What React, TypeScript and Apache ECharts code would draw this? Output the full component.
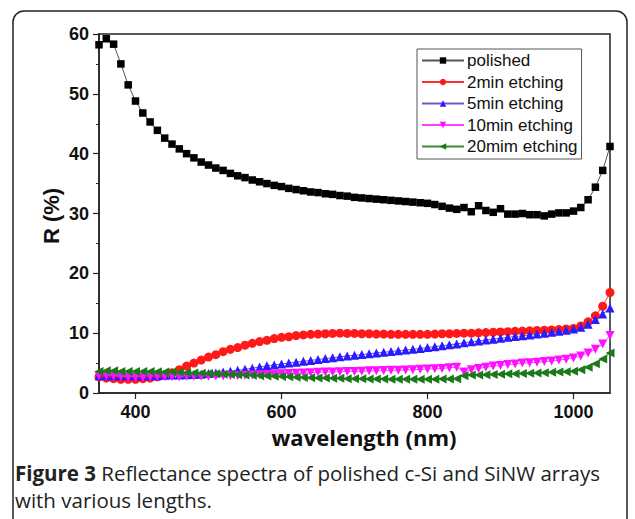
import React, { useEffect, useRef } from "react";
import * as echarts from "echarts";

const wavelengths = [
  350, 360, 370, 380, 390, 400, 410, 420, 430, 440,
  450, 460, 470, 480, 490, 500, 510, 520, 530, 540,
  550, 560, 570, 580, 590, 600, 610, 620, 630, 640,
  650, 660, 670, 680, 690, 700, 710, 720, 730, 740,
  750, 760, 770, 780, 790, 800, 810, 820, 830, 840,
  850, 860, 870, 880, 890, 900, 910, 920, 930, 940,
  950, 960, 970, 980, 990, 1000, 1010, 1020, 1030, 1040,
  1050,
];

const polished = [
  58.2, 59.2, 58.3, 55.0, 51.5, 48.8, 46.8, 45.3, 43.9, 42.6,
  41.6, 40.8, 40.0, 39.3, 38.6, 38.1, 37.6, 37.2, 36.7, 36.3,
  36.0, 35.6, 35.3, 35.0, 34.7, 34.5, 34.2, 34.0, 33.8, 33.6,
  33.5, 33.3, 33.2, 33.0, 32.9, 32.7, 32.6, 32.5, 32.4, 32.3,
  32.2, 32.1, 32.0, 31.9, 31.8, 31.7, 31.5, 31.2, 30.9, 30.7,
  31.0, 30.3, 31.3, 30.5, 30.2, 30.8, 29.9, 29.9, 30.0, 29.8,
  29.8, 29.6, 29.9, 30.1, 30.1, 30.4, 31.0, 32.3, 34.4, 37.2,
  41.2,
];

const etch2 = [
  2.7, 2.5, 2.4, 2.3, 2.3, 2.3, 2.4, 2.5, 2.7, 3.0,
  3.4, 3.9, 4.5, 5.0, 5.5, 6.0, 6.4, 6.9, 7.3, 7.6,
  8.0, 8.3, 8.6, 8.8, 9.1, 9.3, 9.4, 9.6, 9.7, 9.8,
  9.85, 9.9, 9.95, 10.0, 9.95, 9.95, 9.9, 9.9, 9.85, 9.85,
  9.8, 9.8, 9.8, 9.8, 9.8, 9.8, 9.85, 9.9, 9.9, 9.95,
  10.0, 10.0, 10.05, 10.1, 10.15, 10.2, 10.25, 10.3, 10.35, 10.4,
  10.45, 10.5, 10.55, 10.6, 10.7, 10.8, 11.2, 11.9, 12.9, 14.5,
  16.8,
];

const etch5 = [
  2.9, 2.9, 2.9, 2.9, 2.9, 2.9, 2.9, 2.9, 2.9, 2.95,
  3.0, 3.0, 3.05, 3.1, 3.15, 3.25, 3.35, 3.5, 3.65, 3.8,
  3.95, 4.15, 4.35, 4.55, 4.7, 4.85, 5.0, 5.15, 5.3, 5.45,
  5.6, 5.75, 5.9, 6.05, 6.2, 6.3, 6.45, 6.55, 6.7, 6.8,
  6.95, 7.05, 7.2, 7.3, 7.45, 7.6, 7.75, 7.9, 8.05, 8.2,
  8.4, 8.55, 8.7, 8.85, 9.0, 9.15, 9.3, 9.45, 9.55, 9.7,
  9.85, 10.0, 10.15, 10.3, 10.5, 10.7, 11.0, 11.5, 12.3, 13.2,
  14.2,
];

const etch10 = [
  2.9, 2.9, 2.8, 2.7, 2.6, 2.6, 2.6, 2.7, 2.7, 2.7,
  2.7, 2.7, 2.8, 2.8, 2.8, 2.8, 2.85, 2.85, 2.9, 2.9,
  2.95, 3.0, 3.05, 3.1, 3.15, 3.2, 3.25, 3.3, 3.35, 3.4,
  3.45, 3.5, 3.5, 3.55, 3.6, 3.6, 3.65, 3.7, 3.7, 3.75,
  3.8, 3.8, 3.85, 3.9, 3.95, 4.0, 4.05, 4.1, 4.2, 4.3,
  3.5, 3.9, 4.1, 4.3, 4.5, 4.6, 4.75, 4.85, 5.0, 5.05,
  5.15, 5.25, 5.35, 5.5, 5.65, 5.85, 6.2, 6.7, 7.3, 8.2,
  9.6,
];

const etch20 = [
  3.6, 3.7, 3.7, 3.6, 3.6, 3.6, 3.6, 3.6, 3.55, 3.5,
  3.5, 3.45, 3.4, 3.35, 3.3, 3.25, 3.2, 3.15, 3.1, 3.05,
  3.0, 2.95, 2.9, 2.85, 2.8, 2.75, 2.7, 2.65, 2.6, 2.55,
  2.5, 2.5, 2.45, 2.45, 2.4, 2.4, 2.4, 2.35, 2.35, 2.35,
  2.3, 2.3, 2.3, 2.3, 2.3, 2.3, 2.3, 2.35, 2.35, 2.4,
  2.9, 3.0, 3.0, 3.05, 3.1, 3.15, 3.2, 3.2, 3.25, 3.3,
  3.35, 3.4, 3.45, 3.5, 3.55, 3.65, 3.9, 4.3, 4.9, 5.7,
  6.7,
];

const seriesNames = ["polished", "2min etching", "5min etching", "10min etching", "20mim etching"];
const xTicks = [400, 600, 800, 1000];

const xLabel = "wavelength (nm)";
const yLabel = "R (%)";
const captionBold = "Figure 3";
const captionLine1 = " Reflectance spectra of polished c-Si and SiNW arrays";
const captionLine2 = "with various lengths.";

export default function App() {
  const ref = useRef<HTMLDivElement>(null);

  useEffect(() => {
    if (!ref.current) return;
    const chart = echarts.init(ref.current, null, { renderer: "svg" });

    const mk = (vals: number[]) => wavelengths.map((w, i) => [w, vals[i]]);

    const seriesDefs = [
      { name: seriesNames[0], data: polished, color: "#000000", line: "#555555", symbol: "rect", size: 7.5, rotate: 0 },
      { name: seriesNames[1], data: etch2, color: "#ff1a1a", line: "#ff3030", symbol: "circle", size: 9, rotate: 0 },
      { name: seriesNames[2], data: etch5, color: "#2a1aff", line: "#6a5acd", symbol: "triangle", size: 9, rotate: 0 },
      { name: seriesNames[3], data: etch10, color: "#ff10ff", line: "#ff40ff", symbol: "triangle", size: 9, rotate: 180 },
      { name: seriesNames[4], data: etch20, color: "#1a7a1a", line: "#3a8a3a", symbol: "triangle", size: 9, rotate: 90 },
    ];

    const axisFont = {
      fontFamily: "Liberation Sans",
      fontWeight: "bold" as const,
      fontSize: 18,
      color: "#111",
    };

    chart.setOption({
      animation: false,
      backgroundColor: "#ffffff",
      grid: {
        left: 99,
        top: 34,
        width: 511,
        height: 359,
        show: true,
        borderColor: "#222",
        borderWidth: 1.5,
        backgroundColor: "transparent",
      },
      xAxis: {
        type: "value",
        min: 350,
        max: 1050,
        interval: 50,
        axisLine: { show: true, lineStyle: { color: "#222", width: 1.5 } },
        axisTick: {
          show: true,
          inside: false,
          length: 6,
          lineStyle: { color: "#222", width: 1.2 },
          customValues: xTicks,
        },
        minorTick: { show: false },
        splitLine: { show: false },
        axisLabel: {
          ...axisFont,
          margin: 10,
          customValues: xTicks,
          formatter: (v: number) => String(v),
        },
      },
      yAxis: {
        type: "value",
        min: 0,
        max: 60,
        interval: 10,
        axisLine: { show: true, lineStyle: { color: "#222", width: 1.5 } },
        axisTick: { show: true, inside: false, length: 6, lineStyle: { color: "#222", width: 1.2 } },
        minorTick: { show: true, splitNumber: 2, length: 3, lineStyle: { color: "#222", width: 1 } },
        splitLine: { show: false },
        axisLabel: { ...axisFont, margin: 10 },
      },
      legend: {
        show: true,
        orient: "vertical",
        left: 417,
        top: 49,
        width: 163,
        borderColor: "#555",
        borderWidth: 1,
        padding: [3, 4, 4, 4],
        itemGap: 4.5,
        itemWidth: 42,
        itemHeight: 8,
        data: seriesNames,
        textStyle: { fontFamily: "Liberation Sans", fontSize: 17, color: "#111", padding: [0, 0, 0, -2] },
      },
      series: seriesDefs.map((s) => ({
        name: s.name,
        type: "line",
        data: mk(s.data),
        symbol: s.symbol,
        symbolSize: s.size,
        symbolRotate: s.rotate,
        showSymbol: true,
        lineStyle: { color: s.line, width: 1 },
        itemStyle: { color: s.color },
      })),
      graphic: [
        {
          type: "rect",
          shape: { x: 13, y: 11, width: 614, height: 620, r: 11 },
          style: { fill: "none", stroke: "#222", lineWidth: 1.5 },
          silent: true,
        },
        {
          type: "text",
          x: 364,
          y: 437,
          style: {
            text: xLabel,
            font: "bold 22px 'Open Sans'",
            fill: "#111",
            textAlign: "center",
            textVerticalAlign: "middle",
          },
        },
        {
          type: "text",
          x: 51,
          y: 216,
          rotation: Math.PI / 2,
          style: {
            text: yLabel,
            font: "bold 22px 'Liberation Sans'",
            fill: "#111",
            textAlign: "center",
            textVerticalAlign: "middle",
          },
        },
        {
          type: "text",
          x: 15,
          y: 473,
          style: {
            text: "{b|" + captionBold + "}{n|" + captionLine1 + "}",
            textVerticalAlign: "middle",
            rich: {
              b: { font: "bold 20.5px 'Open Sans'", fill: "#222" },
              n: { font: "20.5px 'Open Sans'", fill: "#222" },
            },
          },
        },
        {
          type: "text",
          x: 15,
          y: 500,
          style: {
            text: captionLine2,
            font: "20.5px 'Open Sans'",
            fill: "#222",
            textVerticalAlign: "middle",
          },
        },
      ],
    });

    return () => chart.dispose();
  }, []);

  return (
    <div
      ref={ref}
      style={{ position: "fixed", left: 0, top: 0, width: 635, height: 519, background: "#fff" }}
    />
  );
}
